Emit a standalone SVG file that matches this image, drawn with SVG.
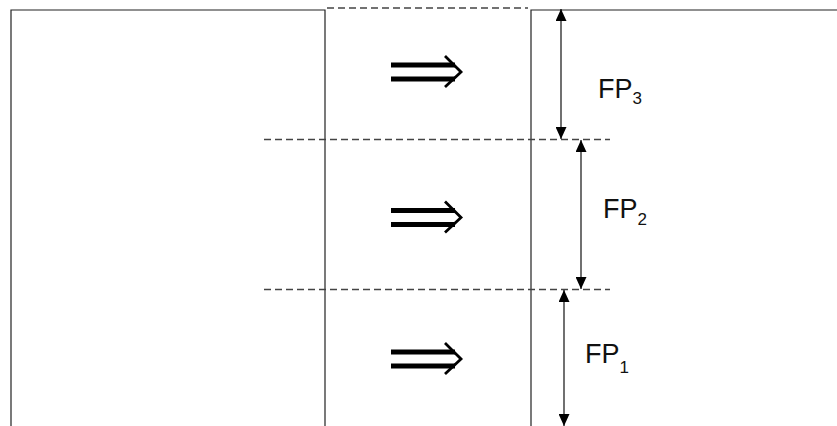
<svg xmlns="http://www.w3.org/2000/svg" width="837" height="426" viewBox="0 0 837 426">
<style>
.frame{fill:none;stroke:#222;stroke-width:1.2}
.dash{fill:none;stroke:#444;stroke-width:1.3;stroke-dasharray:7,4}
.dim{fill:none;stroke:#111;stroke-width:1.2}
.bar{fill:none;stroke:#000;stroke-width:5}
.chev{fill:none;stroke:#000;stroke-width:2.8}
.lbl{font-family:"Liberation Sans",Arial,sans-serif;font-size:27px;fill:#111}
.sub{font-size:17px}
</style>
<defs>
<marker id="ah" viewBox="0 0 12 11" refX="12" refY="5.5" markerWidth="12" markerHeight="11" markerUnits="userSpaceOnUse" orient="auto-start-reverse">
<path d="M0,0 L12,5.5 L0,11 Z" fill="#000"/>
</marker>
<g id="dbl">
<path class="bar" d="M391,65 H455 M391,79 H455"/>
<polyline class="chev" points="445,56 461,72 445,87"/>
</g>
</defs>
<rect width="837" height="426" fill="#fff"/>
<g id="left-block"><path class="frame" d="M11,426 V10 H325 V426"/></g>
<g id="right-block"><path class="frame" d="M531,426 V10 H837"/></g>
<g id="guides">
<path class="dash" d="M327,8 H528"/>
<path class="dash" d="M264,139.5 H610"/>
<path class="dash" d="M264,289.5 H610"/>
</g>
<g id="arrow-3"><use href="#dbl"/></g>
<g id="arrow-2"><use href="#dbl" transform="translate(0,145.5)"/></g>
<g id="arrow-1"><use href="#dbl" transform="translate(0,287)"/></g>
<g id="connectors">
<line class="dim" x1="561" y1="9" x2="561" y2="139" marker-start="url(#ah)" marker-end="url(#ah)"/>
<line class="dim" x1="581" y1="140" x2="581" y2="289" marker-start="url(#ah)" marker-end="url(#ah)"/>
<line class="dim" x1="564" y1="290" x2="564" y2="426" marker-start="url(#ah)" marker-end="url(#ah)"/>
</g>
<g id="fp3"><text class="lbl" x="598" y="97.5">FP<tspan class="sub" dy="6.5">3</tspan></text></g>
<g id="fp2"><text class="lbl" x="603" y="217.5">FP<tspan class="sub" dy="7.5">2</tspan></text></g>
<g id="fp1"><text class="lbl" x="585" y="363">FP<tspan class="sub" dy="10">1</tspan></text></g>
</svg>
